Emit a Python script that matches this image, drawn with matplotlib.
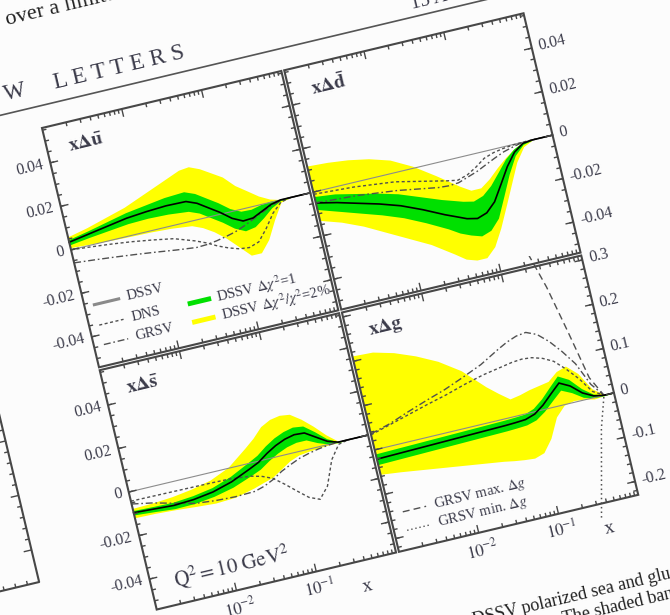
import numpy as np
import matplotlib
matplotlib.use('Agg')
import matplotlib.pyplot as plt
from matplotlib import transforms as mtransforms
from matplotlib.scale import LogTransform
from matplotlib.patches import Rectangle
from matplotlib.collections import LineCollection

plt.rcParams['font.family'] = ['Liberation Serif', 'DejaVu Serif']
plt.rcParams['mathtext.fontset'] = 'stix'

nan = np.nan

# common x grid (log spaced, 1e-3 .. 1)
x = [0.001, 0.00178, 0.00316, 0.00562, 0.01, 0.0178, 0.0316, 0.0422, 0.0562,
     0.075, 0.1, 0.133, 0.178, 0.237, 0.316, 0.422, 0.562, 0.75, 1.0]

# x Delta u-bar
ubar_dssv = [0.0035, 0.005, 0.0065, 0.008, 0.0088, 0.0093, 0.0091, 0.0072, 0.004, 0.0008,
             -0.003, -0.0053, -0.005, -0.003, -0.001, 0.0, 0.0, 0.0, 0.0]
ubar_chi1_hi = [0.0047, 0.0065, 0.0085, 0.0105, 0.0118, 0.0131, 0.0136, 0.0117, 0.0085, 0.0053,
                0.0015, -0.0008, -0.001, 0.0, 0.0005, 0.0003, 0.0, 0.0, 0.0]
ubar_chi1_lo = [0.0023, 0.0035, 0.0045, 0.0055, 0.0058, 0.0055, 0.0046, 0.0027, -0.0005, -0.0037,
                -0.0075, -0.0098, -0.009, -0.006, -0.0025, -0.0003, 0.0, 0.0, 0.0]
ubar_2pc_hi = [0.006, 0.008, 0.0105, 0.013, 0.0165, 0.020, 0.0235, 0.024, 0.022, 0.019,
               0.016, 0.011, 0.0075, 0.004, 0.0015, 0.0002, 0.0, 0.0, 0.0]
ubar_2pc_lo = [0.001, 0.0005, 0.0, -0.0003, -0.0005, -0.001, -0.002, -0.004, -0.007, -0.011,
               -0.016, -0.021, -0.021, -0.016, -0.008, -0.001, 0.0, 0.0, 0.0]
ubar_dns = [0.0, -0.0008, -0.0017, -0.0028, -0.0042, -0.0058, -0.009, -0.011, -0.0135, -0.0155,
            -0.017, -0.0175, -0.016, -0.011, -0.005, -0.001, 0.0, 0.0, 0.0]
ubar_grsv = [-0.006, -0.0068, -0.0077, -0.0087, -0.0098, -0.011, -0.012, -0.0118, -0.0112, -0.0103,
             -0.0092, -0.0075, -0.0055, -0.0035, -0.0015, -0.0003, 0.0, 0.0, 0.0]

# x Delta d-bar
dbar_dssv = [-0.005, -0.007, -0.0095, -0.012, -0.015, -0.019, -0.0235, -0.0255, -0.0275, -0.0285,
             -0.027, -0.023, -0.016, -0.009, -0.0035, -0.0005, 0.0, 0.0, 0.0]
dbar_chi1_hi = [-0.002, -0.003, -0.005, -0.007, -0.0095, -0.013, -0.0165, -0.018, -0.0195, -0.0205,
                -0.019, -0.0155, -0.0105, -0.0055, -0.002, 0.0, 0.0, 0.0, 0.0]
dbar_chi1_lo = [-0.008, -0.011, -0.014, -0.017, -0.0205, -0.025, -0.030, -0.033, -0.035, -0.0365,
                -0.035, -0.0305, -0.0215, -0.0125, -0.005, -0.001, 0.0, 0.0, 0.0]
dbar_2pc_hi = [0.012, 0.0115, 0.0105, 0.0088, 0.006, 0.001, -0.0055, -0.009, -0.0125, -0.0155,
               -0.0155, -0.0125, -0.0085, -0.005, -0.002, 0.0, 0.0, 0.0, 0.0]
dbar_2pc_lo = [-0.013, -0.016, -0.020, -0.025, -0.030, -0.035, -0.0415, -0.045, -0.0465, -0.0465,
               -0.0425, -0.035, -0.026, -0.017, -0.008, -0.002, 0.0, 0.0, 0.0]
dbar_dns = [-0.001, -0.0015, -0.002, -0.003, -0.004, -0.006, -0.008, -0.009, -0.0098, -0.0085,
            -0.006, -0.003, -0.0015, -0.0007, -0.0002, 0.0, 0.0, 0.0, 0.0]
dbar_grsv = [-0.005, -0.0055, -0.006, -0.007, -0.008, -0.0095, -0.011, -0.0113, -0.011, -0.0095,
             -0.008, -0.006, -0.004, -0.0022, -0.001, 0.0, 0.0, 0.0, 0.0]

# x Delta s-bar
sbar_dssv = [-0.0095, -0.010, -0.0105, -0.010, -0.0087, -0.0062, -0.0025, -0.0005, 0.0025, 0.005,
             0.0068, 0.0078, 0.0075, 0.0045, 0.0015, 0.0, 0.0, 0.0, 0.0]
sbar_chi1_hi = [-0.0085, -0.0088, -0.009, -0.0082, -0.0067, -0.0037, 0.0005, 0.0027, 0.0059, 0.0085,
                0.0103, 0.0113, 0.0107, 0.007, 0.0027, 0.0002, 0.0, 0.0, 0.0]
sbar_chi1_lo = [-0.0105, -0.0112, -0.012, -0.0118, -0.0107, -0.0087, -0.0055, -0.0037, -0.0009, 0.0015,
                0.0033, 0.0043, 0.0043, 0.002, 0.0003, -0.0002, 0.0, 0.0, 0.0]
sbar_2pc_hi = [-0.0075, -0.0072, -0.0065, -0.0052, -0.0032, 0.0005, 0.007, 0.0105, 0.0148, 0.017,
               0.0178, 0.0172, 0.0138, 0.0095, 0.0045, 0.0005, 0.0, 0.0, 0.0]
sbar_2pc_lo = [-0.0118, -0.012, -0.0125, -0.0132, -0.0138, -0.0133, -0.0112, -0.0098, -0.0085, -0.0058,
               -0.0031, -0.0015, -0.0009, -0.0005, -0.0002, -0.0002, 0.0, 0.0, 0.0]
sbar_dns = [-0.0042, -0.0043, -0.0044, -0.0045, -0.0046, -0.0048, -0.0058, -0.007, -0.009, -0.0128,
            -0.017, -0.021, -0.023, -0.018, -0.007, -0.001, 0.0, 0.0, 0.0]
sbar_grsv = [-0.0055, -0.0072, -0.0095, -0.0118, -0.0127, -0.0131, -0.0128, -0.0115, -0.0095, -0.0068,
             -0.0048, -0.003, -0.0018, -0.0009, -0.0003, 0.0, 0.0, 0.0, 0.0]

# x Delta g
g_dssv = [-0.021, -0.02, -0.019, -0.018, -0.017, -0.016, -0.015, -0.0145, -0.0135, -0.012,
          -0.005, 0.01, 0.03, 0.049, 0.037, 0.016, 0.004, 0.0, 0.0]
g_chi1_hi = [-0.009, -0.008, -0.007, -0.006, -0.005, -0.004, -0.003, -0.0025, -0.0015, 0.0,
             0.008, 0.024, 0.045, 0.065, 0.052, 0.026, 0.008, 0.001, 0.0]
g_chi1_lo = [-0.033, -0.032, -0.031, -0.030, -0.029, -0.028, -0.027, -0.0265, -0.0255, -0.024,
             -0.018, -0.004, 0.015, 0.033, 0.022, 0.006, 0.0, -0.001, 0.0]
g_2pc_hi = [0.212, 0.21, 0.198, 0.18, 0.157, 0.125, 0.078, 0.058, 0.040, 0.044,
            0.05, 0.054, 0.058, 0.075, 0.082, 0.06, 0.02, 0.002, 0.0]
g_2pc_lo = [-0.055, -0.06, -0.066, -0.072, -0.078, -0.084, -0.09, -0.094, -0.097, -0.099,
            -0.092, -0.065, -0.022, -0.001, 0.004, 0.002, -0.003, -0.001, 0.0]
g_dns = [0.034, 0.046, 0.058, 0.07, 0.081, 0.094, 0.105, 0.109, 0.113, 0.117,
         0.119, 0.117, 0.11, 0.098, 0.075, 0.048, 0.014, 0.0, 0.0]
g_grsv = [0.036, 0.048, 0.064, 0.079, 0.093, 0.11, 0.128, 0.14, 0.152, 0.163,
          0.171, 0.174, 0.164, 0.143, 0.115, 0.082, 0.03, 0.0, 0.0]
g_grsv_max = [nan, nan, nan, nan, nan, nan, nan, nan, nan, nan,
              nan, nan, nan, 0.34, 0.26, 0.155, 0.045, 0.0, 0.0]
g_grsv_min = [nan, nan, nan, nan, nan, nan, nan, nan, nan, nan,
              nan, nan, nan, nan, -0.26, -0.165, -0.07, 0.0, 0.0]

# styles
YELLOW = '#ffff00'
GREEN = '#00e000'
INK = '#3b3b4a'
FRAME = '#474747'
LINE = '#505050'
DNS_STYLE = (0, (2.2, 1.8))
GRSV_STYLE = (0, (5, 2, 1.2, 2))
MAX_STYLE = (0, (5, 3))
MIN_STYLE = (0, (1, 2))

# geometry of the photographed page (rotated)
THETA = 13.4
GX, GY = 42, 128
S = 246
GAP = 3

fig = plt.figure(figsize=(6.7, 6.15), dpi=100, facecolor='#fcfcfc')
ax = fig.add_axes([0, 0, 1, 1])
ax.set_xlim(0, 670)
ax.set_ylim(615, 0)
ax.set_autoscale_on(False)
ax.axis('off')

page = mtransforms.Affine2D().rotate_deg(-THETA).translate(GX, GY) + ax.transData


def ptext(px, py, s, tr=page, **kw):
    kw.setdefault('color', INK)
    kw.setdefault('rotation_mode', 'anchor')
    return ax.text(px, py, s, transform=tr, rotation=THETA, **kw)


def panel(col, row, ylim, ymajor, ylabels, yminor_step, side, name, bands, lines, bottom):
    x0 = col * (S + GAP)
    y0 = row * (S + GAP)
    ybot, ytop = ylim
    h = ytop - ybot
    logx = mtransforms.blended_transform_factory(LogTransform(10), mtransforms.IdentityTransform())
    data = logx + mtransforms.Affine2D().scale(S / 3, -S / h).translate(x0 + S, y0 + S * ytop / h) + page
    xtr = logx + mtransforms.Affine2D().scale(S / 3, 1).translate(x0 + S, 0) + page
    ytr = mtransforms.Affine2D().scale(1, -S / h).translate(0, y0 + S * ytop / h) + page
    clip = Rectangle((x0, y0), S, S, transform=page)

    lo2, hi2, lo1, hi1 = bands
    for lo, hi, c, z in [(lo2, hi2, YELLOW, 1), (lo1, hi1, GREEN, 2)]:
        pc = ax.fill_between(x, lo, hi, color=c, lw=0, transform=data, zorder=z)
        pc.set_clip_path(clip)
    zl, = ax.plot([1e-3, 1], [0, 0], color='#8c8c8c', lw=0.8, transform=data, zorder=2.5)
    zl.set_clip_path(clip)
    for ys, ls, c, lw, z in lines:
        ln, = ax.plot(x, ys, ls=ls, color=c, lw=lw, transform=data, zorder=z)
        ln.set_clip_path(clip)

    ax.add_patch(Rectangle((x0, y0), S, S, fill=False, ec=FRAME, lw=1.5, transform=page, zorder=5))

    # ticks, inward on all four sides
    xmaj = [0.01, 0.1]
    xmin = [k * 10.0 ** d for d in (-3, -2, -1) for k in range(2, 10)]
    segs = []
    for t, L in [(t, 8) for t in xmaj] + [(t, 4) for t in xmin]:
        segs += [[(t, y0 + S), (t, y0 + S - L)], [(t, y0), (t, y0 + L)]]
    ax.add_collection(LineCollection(segs, colors=FRAME, linewidths=1.0, transform=xtr, zorder=5))
    yminor = np.arange(ybot - ybot % yminor_step, ytop, yminor_step)
    segs = []
    for t, L in [(t, 8) for t in ymajor] + [(t, 4) for t in yminor if ybot < t < ytop]:
        segs += [[(x0, t), (x0 + L, t)], [(x0 + S, t), (x0 + S - L, t)]]
    ax.add_collection(LineCollection(segs, colors=FRAME, linewidths=1.0, transform=ytr, zorder=5))

    for t, lab in zip(ymajor, ylabels):
        if side == 'left':
            ptext(x0 - 7, t, lab, tr=ytr, ha='right', va='center', fontsize=11.5)
        else:
            ptext(x0 + S + 7, t, lab, tr=ytr, ha='left', va='center', fontsize=11.5)

    ptext(x0 + 22, y0 + 24, name, ha='left', va='center', fontsize=14)

    if bottom:
        for t, lab in zip(xmaj, [r'$10^{-2}$', r'$10^{-1}$']):
            ptext(t, y0 + S + 8, lab, tr=xtr, ha='center', va='top', fontsize=12)
        ptext(0.37, y0 + S + 26, 'x', tr=xtr, ha='center', va='center', fontsize=14)
    return x0, y0


sea_lim = (-0.054, 0.056)
sea_major = [-0.04, -0.02, 0.0, 0.02, 0.04]
sea_labels = ['-0.04', '-0.02', '0', '0.02', '0.04']


def std_lines(dssv, dns, grsv):
    return [(dns, DNS_STYLE, LINE, 1.0, 3), (grsv, GRSV_STYLE, LINE, 1.0, 3),
            (dssv, '-', 'black', 1.2, 4)]


panel(0, 0, sea_lim, sea_major, sea_labels, 0.005, 'left', r'$\mathbf{x\Delta\bar{u}}$',
      (ubar_2pc_lo, ubar_2pc_hi, ubar_chi1_lo, ubar_chi1_hi),
      std_lines(ubar_dssv, ubar_dns, ubar_grsv), False)
panel(1, 0, sea_lim, sea_major, sea_labels, 0.005, 'right', r'$\mathbf{x\Delta\bar{d}}$',
      (dbar_2pc_lo, dbar_2pc_hi, dbar_chi1_lo, dbar_chi1_hi),
      std_lines(dbar_dssv, dbar_dns, dbar_grsv), False)
bx, by = panel(0, 1, sea_lim, sea_major, sea_labels, 0.005, 'left', r'$\mathbf{x\Delta\bar{s}}$',
               (sbar_2pc_lo, sbar_2pc_hi, sbar_chi1_lo, sbar_chi1_hi),
               std_lines(sbar_dssv, sbar_dns, sbar_grsv), True)
gx, gy = panel(1, 1, (-0.23, 0.31), [-0.2, -0.1, 0.0, 0.1, 0.2, 0.3],
               ['-0.2', '-0.1', '0', '0.1', '0.2', '0.3'], 0.02, 'right', r'$\mathbf{x\Delta g}$',
               (g_2pc_lo, g_2pc_hi, g_chi1_lo, g_chi1_hi),
               [(g_grsv_max, MAX_STYLE, LINE, 1.0, 3), (g_grsv_min, MIN_STYLE, LINE, 1.1, 3)]
               + std_lines(g_dssv, g_dns, g_grsv), True)

# legend in the u-bar panel
for py, ls, c, lw, lab in [(184, '-', '#8a8a8a', 2.2, 'DSSV'), (205, DNS_STYLE, LINE, 1.0, 'DNS'),
                           (225, GRSV_STYLE, LINE, 1.0, 'GRSV')]:
    ax.plot([10, 35], [py, py], ls=ls, color=c, lw=lw, transform=page)
    ptext(43, py, lab, ha='left', va='center', fontsize=10.5)
for py, c, lab in [(205, GREEN, r'DSSV $\Delta\chi^2$=1'), (224, YELLOW, r'DSSV $\Delta\chi^2/\chi^2$=2%')]:
    ax.plot([101, 125], [py, py], color=c, lw=3.5, transform=page, solid_capstyle='butt')
    ptext(131, py, lab, ha='left', va='center', fontsize=10.5)

# legend in the gluon panel
for py, ls, lab in [(208, MAX_STYLE, r'GRSV max. $\Delta g$'), (227, MIN_STYLE, r'GRSV min. $\Delta g$')]:
    ax.plot([gx + 13, gx + 37], [gy + py, gy + py], ls=ls, color=LINE, lw=1.0, transform=page)
    ptext(gx + 45, gy + py, lab, ha='left', va='center', fontsize=10.5)

ptext(bx + 24, by + 228, r'$\mathrm{Q}^2 = 10\ \mathrm{GeV}^2$', ha='left', va='baseline', fontsize=15)

# rest of the printed page
ax.plot([-400, 800], [-22, -22], color='#555555', lw=1.2, transform=page)
ptext(156, -35, 'P H Y S I C A L     R E V I E W     L E T T E R S', ha='right', va='baseline',
      fontsize=17)
ptext(388, -30, '15 AUGUST 2008', ha='left', va='baseline', fontsize=14)
ptext(-10, -108, 'over a limited', ha='left', va='baseline', fontsize=16, color='#222222')
ptext(305, 584, 'DSSV polarized sea and gluon densities', ha='left', va='baseline', fontsize=13,
      color='#222222')
ptext(393, 603, 'The shaded bands', ha='left', va='baseline', fontsize=13, color='#222222')

# frame of the neighbouring figure in the left column
ax.plot([-108, -108, -420], [-300, 441, 441], color=FRAME, lw=1.5, transform=page)
segs = [[(-108, t), (-108 - (8 if k % 5 == 0 else 4), t)]
        for k, t in enumerate(np.arange(408, -300, -11.2))]
segs += [[(t, 441), (t, 441 - 4)] for t in np.arange(-120, -420, -12)]
ax.add_collection(LineCollection(segs, colors=FRAME, linewidths=1.0, transform=page))

fig.savefig('out.png', dpi=100, facecolor=fig.get_facecolor())
